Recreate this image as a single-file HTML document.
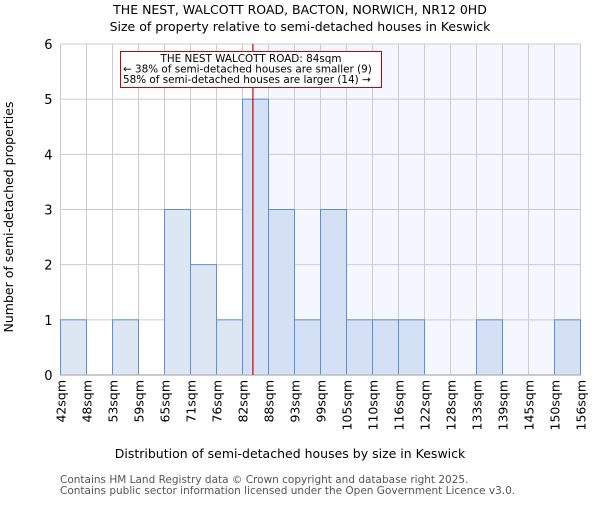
<!DOCTYPE html>
<html><head><meta charset="utf-8"><style>body{margin:0;background:#fff}svg{font-family:"DejaVu Sans","Liberation Sans",sans-serif}</style></head>
<body>
<svg id="c" width="600" height="500" viewBox="0 0 600 500" xmlns="http://www.w3.org/2000/svg">
<text x="300" y="14" text-anchor="middle" font-size="12.5">THE NEST, WALCOTT ROAD, BACTON, NORWICH, NR12 0HD</text>
<text x="300" y="31" text-anchor="middle" font-size="12.5">Size of property relative to semi-detached houses in Keswick</text>
<g id="plot"></g>
<text x="290" y="458" text-anchor="middle" font-size="12.5">Distribution of semi-detached houses by size in Keswick</text>
<text transform="translate(13,217) rotate(-90)" text-anchor="middle" font-size="12.5">Number of semi-detached properties</text>
<text x="60" y="483" font-size="10.5" fill="#555">Contains HM Land Registry data © Crown copyright and database right 2025.</text>
<text x="60" y="494" font-size="10.5" fill="#555">Contains public sector information licensed under the Open Government Licence v3.0.</text>
</svg>
<script>
const binLabels=["42sqm","48sqm","53sqm","59sqm","65sqm","71sqm","76sqm","82sqm","88sqm","93sqm","99sqm","105sqm","110sqm","116sqm","122sqm","128sqm","133sqm","139sqm","145sqm","150sqm","156sqm"];
const counts=[1,0,1,0,3,2,1,5,3,1,3,1,1,1,0,0,1,0,0,1];
const yTicks=[0,1,2,3,4,5,6];
const markerBin=7.4;
const NS="http://www.w3.org/2000/svg";
const g=document.getElementById('plot');
const L=60.5,R=580.5,T=44,B=375,yMax=6;
const bw=(R-L)/counts.length;
const x=i=>L+i*bw, y=v=>B-(B-T)*v/yMax;
function mk(t,a,p){const e=document.createElementNS(NS,t);for(const k in a)e.setAttribute(k,a[k]);(p||g).appendChild(e);return e;}
const mx=x(markerBin);
let bg=mk('rect',{x:mx,y:T,width:R-mx,height:B-T,fill:'#f4f7fd'});


for(let i=0;i<binLabels.length;i++){let l=mk('line',{x1:x(i),x2:x(i),y1:T,y2:B,stroke:'#cccccc'});

}
yTicks.forEach(v=>{let l=mk('line',{x1:L,x2:R,y1:y(v),y2:y(v),stroke:'#cccccc'});


let t=mk('text',{x:L-8,y:y(v)+5,'text-anchor':'end','font-size':13});t.textContent=v;

});
counts.forEach((c,i)=>{if(!c)return;let r=mk('rect',{x:x(i),y:y(c),width:bw,height:B-y(c),fill:x(i)>=mx-bw/2?'#d4e0f3':'#dde7f4',stroke:'#5b8fd6','stroke-width':1});

});
binLabels.forEach((s,i)=>{let t=mk('text',{transform:`translate(${x(i)+5},380) rotate(-90)`,'text-anchor':'end','font-size':12.5});t.textContent=s;

});
let ax=mk('line',{x1:L,x2:R,y1:B,y2:B,stroke:'#bbbbbb','stroke-width':1.5});


let ml=mk('line',{x1:mx,x2:mx,y1:T,y2:B,stroke:'#cc0000','stroke-width':1.2});


const ag=mk('g',{});


mk('rect',{x:120.5,y:51.5,width:261,height:36,fill:'#fff',stroke:'#cc0000','stroke-width':1},ag);
[["THE NEST WALCOTT ROAD: 84sqm",251,62,'middle'],["← 38% of semi-detached houses are smaller (9)",123,72.5,'start'],["58% of semi-detached houses are larger (14) →",123,83,'start']].forEach(a=>{let t=mk('text',{x:a[1],y:a[2],'text-anchor':a[3],'font-size':10.4},ag);t.textContent=a[0];

});
</script>
</body></html>
